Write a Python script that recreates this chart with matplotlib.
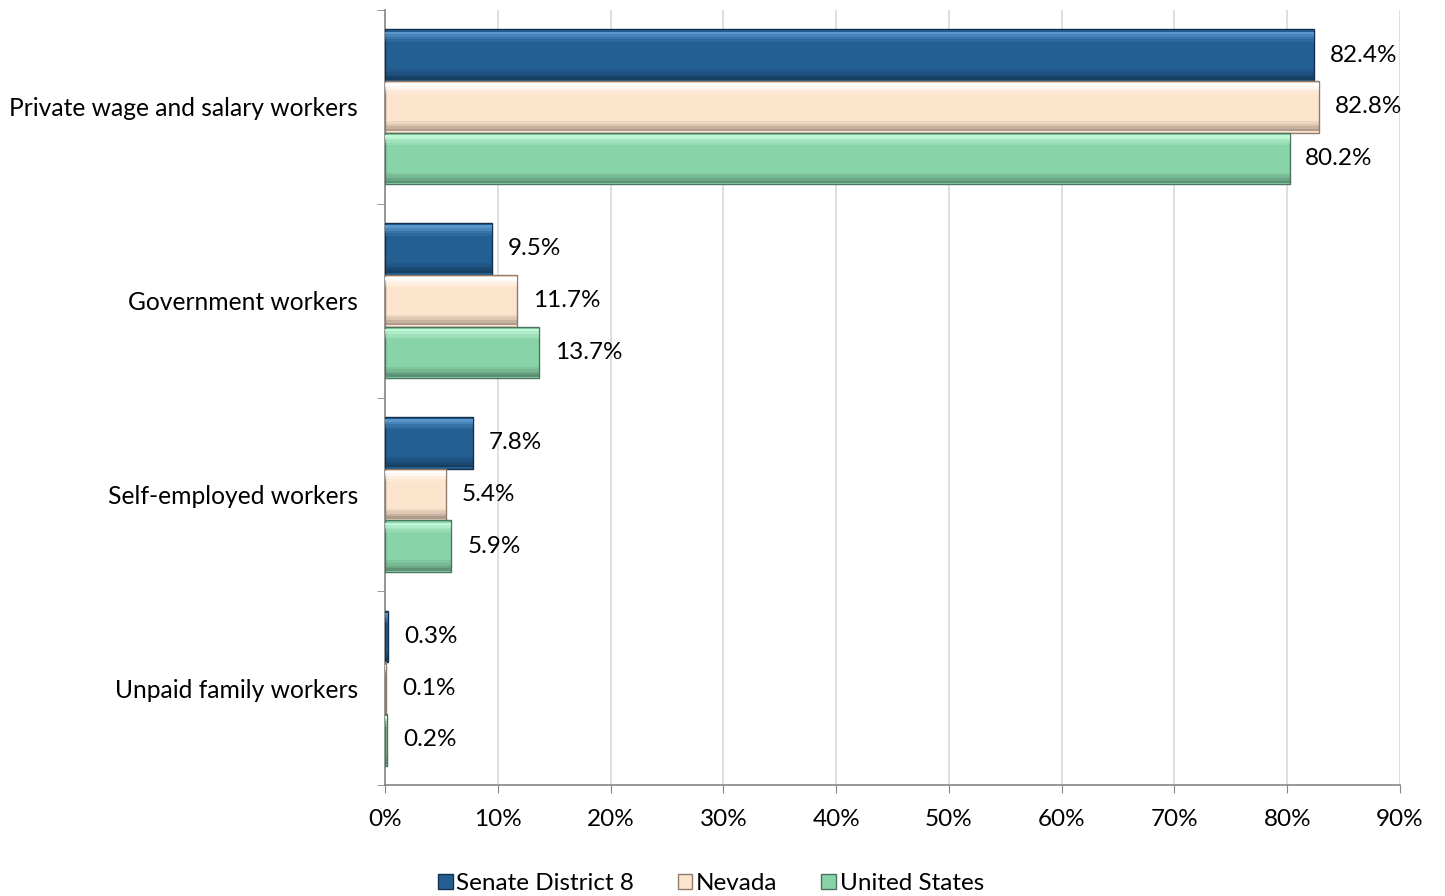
import matplotlib.pyplot as plt
import numpy as np

categories = ["Private wage and salary workers", "Government workers",
              "Self-employed workers", "Unpaid family workers"]
series_names = ["Senate District 8", "Nevada", "United States"]
senate = [82.4, 9.5, 7.8, 0.3]
nevada = [82.8, 11.7, 5.4, 0.1]
usa = [80.2, 13.7, 5.9, 0.2]
x_ticks = [0, 10, 20, 30, 40, 50, 60, 70, 80, 90]

# base, highlight, shadow
palettes = [("#245f93", "#5a96cc", "#12304d"),
            ("#fde4cd", "#ffffff", "#8f7c6f"),
            ("#88d4a8", "#c0f7d6", "#4b7560")]

plt.rcParams['font.family'] = ['Lato', 'DejaVu Sans']

fig = plt.figure(figsize=(14.45, 8.96), dpi=100)
ax = fig.add_axes([0.2664, 0.1239, 0.9689 - 0.2664, 0.9888 - 0.1239])

y = np.arange(len(categories))
h = 0.267
all_series = [senate, nevada, usa]
for i, (vals, (base, hi, lo)) in enumerate(zip(all_series, palettes)):
    pos = y + (i - 1) * h
    ax.barh(pos, vals, height=h, color=base, edgecolor=lo, linewidth=1.0, zorder=3,
            label=series_names[i])
    # bevel: soft light band at top, soft dark band at bottom
    for k, a in enumerate([1.0, 0.7, 0.4, 0.2]):
        ax.barh(pos - h * (0.43 - 0.05 * k), vals, height=h * 0.05, color=hi, alpha=a,
                linewidth=0, zorder=4)
        ax.barh(pos + h * (0.45 - 0.05 * k), vals, height=h * 0.05, color=lo, alpha=a * 0.7,
                linewidth=0, zorder=4)
    for p, v in zip(pos, vals):
        ax.text(v + 1.4, p, f"{v:.1f}%", va="center", ha="left", fontsize=17.5, color="black")

ax.set_xlim(0, 90)
ax.set_ylim(3.5, -0.5)
ax.set_xticks(x_ticks)
ax.set_xticklabels([f"{t}%" for t in x_ticks], fontsize=17.5)
ax.set_yticks(y)
ax.set_yticklabels(categories, fontsize=17.7)
ax.tick_params(axis="y", length=0, pad=19.5)
ax.set_yticks(np.arange(-0.5, len(categories), 1), minor=True)
ax.tick_params(axis="y", which="minor", length=6, color="#868686")
ax.tick_params(axis="x", length=6, color="#868686", pad=11)
ax.grid(axis="x", color="#d9d9d9", linewidth=1.2, zorder=0)
for s in ["top", "right"]:
    ax.spines[s].set_visible(False)
for s in ["left", "bottom"]:
    ax.spines[s].set_color("#868686")
    ax.spines[s].set_linewidth(1.2)

handles, labels = ax.get_legend_handles_labels()
fig.legend(handles, labels, loc="lower center", bbox_to_anchor=(0.492, -0.022), ncol=3,
           frameon=False, fontsize=17.5, handlelength=0.6, handleheight=0.6,
           handletextpad=0.15, columnspacing=1.8)

fig.savefig("out.png", dpi=100)
